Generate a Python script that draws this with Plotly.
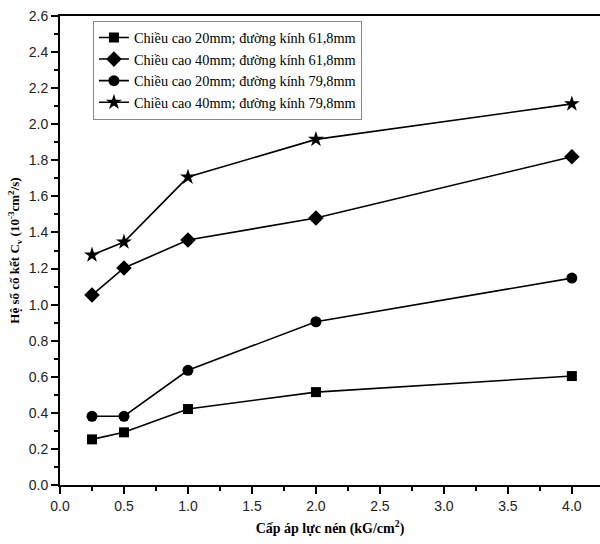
import plotly.graph_objects as go

x_vals = [0.25, 0.5, 1.0, 2.0, 4.0]
s_20_618 = [0.253, 0.292, 0.421, 0.515, 0.604]
s_40_618 = [1.053, 1.203, 1.358, 1.480, 1.820]
s_20_798 = [0.381, 0.381, 0.636, 0.905, 1.147]
s_40_798 = [1.275, 1.347, 1.707, 1.916, 2.113]

names = ["Chiều cao 20mm; đường kính 61,8mm",
         "Chiều cao 40mm; đường kính 61,8mm",
         "Chiều cao 20mm; đường kính 79,8mm",
         "Chiều cao 40mm; đường kính 79,8mm"]
series = [s_20_618, s_40_618, s_20_798, s_40_798]
symbols = ["square", "diamond", "circle", "star"]
sizes = [10, 12, 11, 12]

fig = go.Figure()
for i, (n, s, sym, sz) in enumerate(zip(names, series, symbols, sizes)):
    fig.add_trace(go.Scatter(x=x_vals, y=s, name=n, mode="lines+markers",
                             legendgroup=f"g{i}",
                             line=dict(color="black", width=1.6),
                             marker=dict(symbol=sym, size=sz, color="black")))

tickfont = dict(family="Liberation Sans, Arial", size=14, color="#222")
fig.update_layout(
    width=600, height=544,
    margin=dict(l=60, r=0, t=16, b=59),
    plot_bgcolor="white", paper_bgcolor="white",
    showlegend=True,
    legend=dict(x=0.061, y=0.99, xanchor="left", yanchor="top",
                bgcolor="white", bordercolor="#888", borderwidth=1,
                font=dict(family="Liberation Serif, Times New Roman", size=14.3, color="black"),
                traceorder="normal", tracegroupgap=1.5, itemwidth=30),
    xaxis=dict(range=[0, 4.22], tickvals=[0, 0.5, 1.0, 1.5, 2.0, 2.5, 3.0, 3.5, 4.0],
               ticktext=["0.0", "0.5", "1.0", "1.5", "2.0", "2.5", "3.0", "3.5", "4.0"],
               ticks="outside", ticklen=7, tickwidth=1.5, tickcolor="black",
               minor=dict(dtick=0.25, ticks="outside", ticklen=4, tickwidth=1.5, tickcolor="black"),
               showline=True, linecolor="black", linewidth=2, mirror=True,
               showgrid=False, zeroline=False, tickfont=tickfont, automargin=False,
               title=dict(text="<b>Cấp áp lực nén (kG/cm<sup>2</sup>)</b>", standoff=10,
                          font=dict(family="Liberation Serif, Times New Roman", size=14, color="black"))),
    yaxis=dict(range=[0, 2.6], tickvals=[0, 0.2, 0.4, 0.6, 0.8, 1.0, 1.2, 1.4, 1.6, 1.8, 2.0, 2.2, 2.4, 2.6],
               ticktext=["0.0", "0.2", "0.4", "0.6", "0.8", "1.0", "1.2", "1.4", "1.6", "1.8", "2.0", "2.2", "2.4", "2.6"],
               ticks="outside", ticklen=7, tickwidth=1.5, tickcolor="black",
               minor=dict(dtick=0.1, ticks="outside", ticklen=4, tickwidth=1.5, tickcolor="black"),
               showline=True, linecolor="black", linewidth=2, mirror=False,
               showgrid=False, zeroline=False, tickfont=tickfont, automargin=False,
               title=dict(text="<b>Hệ số cố kết C<sub>v</sub> (10<sup>-3</sup>cm<sup>2</sup>/s)</b>", standoff=6,
                          font=dict(family="Liberation Serif, Times New Roman", size=13, color="black"))),
)
fig.write_html("out.html", config={"displayModeBar": False},
               post_script="document.body.style.margin='0';document.body.style.overflow='hidden';")
